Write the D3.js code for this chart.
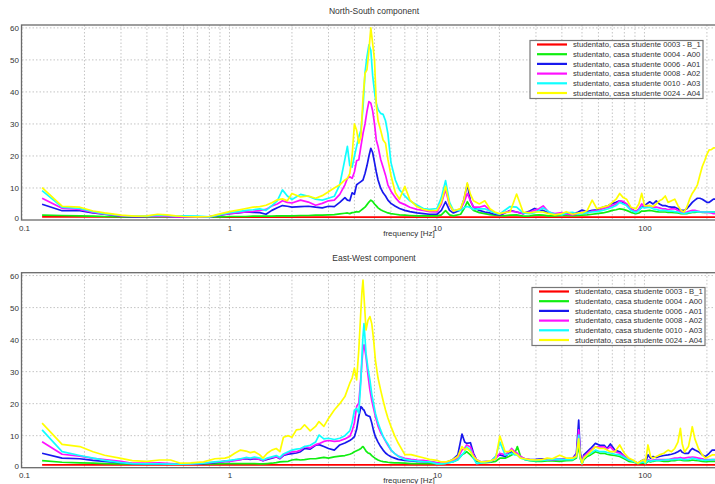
<!DOCTYPE html>
<html>
<head>
<meta charset="utf-8">
<script src="https://cdnjs.cloudflare.com/ajax/libs/d3/7.8.5/d3.min.js"></script>
<style>
body { margin: 0; background: #fff; }
text { font-family: "Liberation Sans", Arial, sans-serif; fill: #333; }
</style>
</head>
<body>
<div id="chart"></div>
<script>
// spectra of the two horizontal components

const width = 715;
const height = 484;

const seriesNames = [
  "studentato, casa studente 0003 - B_1",
  "studentato, casa studente 0004 - A00",
  "studentato, casa studente 0006 - A01",
  "studentato, casa studente 0008 - A02",
  "studentato, casa studente 0010 - A03",
  "studentato, casa studente 0024 - A04"
];
const seriesColors = ["#ff0000", "#10ee10", "#1818ee", "#ff10ff", "#10ffff", "#ffff00"];
const yTicks = [0, 10, 20, 30, 40, 50, 60];
const xTickLabels = [0.1, 1, 10, 100];

// North-South
const freqNS = [0.125,0.156,0.19,0.22,0.25,0.3,0.35,0.4,0.45,0.5,0.55,0.6,0.7,0.8,0.9,
  1.0,1.1,1.2,1.3,1.4,1.5,1.6,1.7,1.8,1.9,2.0,2.2,2.4,2.6,2.8,3.0,3.2,3.4,3.6,3.7,3.8,3.9,
  4.0,4.1,4.2,4.3,4.4,4.5,4.6,4.7,4.8,4.9,5.0,5.1,5.2,5.35,5.5,5.65,5.8,6.0,6.3,6.6,7.0,7.4,8.0,8.6,9.2,
  10,10.5,11,11.5,12,13,13.5,14,14.5,15,16,17,18,19,20,21,22.5,24.2,26,28,29.5,31,32.5,34.5,37,40,42,45,48,
  50,53,56,59,63,67,70,73,76,79,82,86,91,94,97,
  100,106,110,114,118,122,126,130,135,140,145,150,155,160,165,170,175,180,185,190,195,200,205,210,215,220];

const nsB1 = [1.0,1.0,1.0,1.0,1.0,0.9,0.9,0.9,0.9,0.9,0.9,0.9,0.9,0.9,0.9,
  0.9,0.9,0.9,0.9,0.9,0.9,0.9,0.9,0.9,0.9,0.9,0.9,0.9,0.9,0.9,0.9,0.9,0.9,0.9,0.9,0.9,0.9,
  0.9,0.9,0.9,0.9,0.9,0.9,0.9,0.9,0.9,0.9,0.9,0.9,0.9,0.9,0.9,0.9,0.9,0.9,0.9,0.9,0.9,0.9,0.9,0.9,0.9,
  0.9,0.9,0.9,0.9,0.9,0.9,0.9,0.9,0.9,0.9,0.9,0.9,0.9,0.9,0.9,0.9,0.9,0.9,0.9,0.9,0.9,0.9,0.9,0.9,0.9,0.9,0.9,0.9,0.9,
  0.9,0.9,0.9,0.9,0.9,0.9,0.9,0.9,0.9,0.9,0.9,0.9,0.9,0.9,0.9,
  0.9,0.9,0.9,0.9,0.9,0.9,0.9,0.9,0.9,0.9,0.9,0.9,0.9,0.9,0.9,0.9,0.9,0.9,0.9,0.9,0.9,0.9,0.9,0.9,0.9,0.9];
const nsA00 = [1.5,1.4,1.3,1.2,1.1,1.0,1.0,1.0,1.0,1.0,1.0,1.0,1.0,1.0,1.0,
  1.1,1.1,1.1,1.2,1.2,1.2,1.2,1.3,1.3,1.3,1.3,1.4,1.4,1.5,1.5,1.6,1.7,1.9,2.1,2.2,2.0,2.3,
  2.4,2.6,2.5,3.0,3.5,4.0,4.8,5.6,6.2,5.8,5.0,4.4,3.8,3.2,2.8,2.5,2.2,2.0,1.8,1.6,1.5,1.4,1.3,1.3,1.3,
  1.3,1.6,2.9,1.6,1.3,1.8,3.5,5.7,4.0,3.0,2.3,2.0,1.7,1.5,1.4,1.3,1.5,1.6,1.2,1.3,1.5,1.6,1.5,1.3,1.3,1.4,1.5,1.3,1.4,
  1.5,1.6,1.8,2.0,2.2,2.6,3.0,3.2,3.5,3.3,3.0,2.4,2.0,2.2,2.8,
  2.8,3.0,2.8,2.6,2.5,2.5,2.5,2.4,2.4,2.3,2.2,2.0,2.0,2.0,2.2,2.4,2.4,2.5,2.5,2.4,2.4,2.4,2.5,2.5,2.5,2.5];
const nsA01 = [4.9,2.9,2.9,2.2,1.8,1.2,1.0,1.1,1.3,1.2,1.0,1.0,1.0,1.0,1.5,
  2.0,2.2,2.5,2.4,2.3,1.8,3.0,3.8,4.5,4.3,4.0,4.2,4.3,4.0,3.8,4.3,4.2,5.5,7.0,6.2,6.0,8.5,
  8.0,11.0,11.5,12.0,12.5,14.5,17.0,20.0,22.4,21.0,18.0,15.0,12.5,10.0,8.5,7.5,6.2,5.2,4.3,3.6,3.0,2.6,2.2,2.0,1.8,
  1.8,3.0,5.7,3.0,2.2,3.1,6.5,11.2,6.0,4.0,3.0,2.5,2.2,1.8,1.6,2.0,3.0,2.5,2.0,2.8,3.6,3.0,3.0,2.2,1.8,2.0,2.0,1.8,2.5,
  3.1,2.6,3.0,3.2,4.0,4.5,5.2,5.5,6.0,5.5,5.0,3.5,2.6,3.2,4.0,
  4.5,5.7,5.0,6.0,5.0,4.5,4.5,4.2,4.0,4.0,3.5,3.0,3.0,3.5,4.5,5.5,6.2,6.8,6.8,6.5,6.0,5.5,5.5,6.0,6.5,6.5];
const nsA02 = [6.8,3.7,3.3,2.4,1.9,1.3,1.1,1.1,1.2,1.1,1.0,1.0,1.0,1.0,1.6,
  2.0,2.3,2.5,2.7,3.0,3.3,4.4,5.0,6.0,5.5,5.3,6.2,5.6,4.6,5.2,6.0,6.2,8.0,11.0,13.0,13.5,13.0,
  15.0,18.5,18.8,23.0,27.0,30.0,34.0,37.0,36.5,34.0,30.0,25.0,23.0,19.0,16.5,14.0,11.0,9.0,7.0,5.5,4.8,4.0,3.3,3.0,2.6,
  2.5,5.0,9.5,4.5,2.8,3.4,5.5,8.3,6.0,4.0,4.0,4.5,3.0,2.2,1.8,2.2,2.8,2.5,2.0,2.5,3.0,3.5,4.4,2.5,2.0,2.3,1.8,1.6,2.0,
  2.4,2.2,2.8,2.8,3.5,4.0,4.5,5.0,6.0,5.8,5.0,3.5,2.6,3.5,5.0,
  4.2,4.5,4.0,4.0,3.8,3.5,3.5,3.2,3.5,3.5,3.0,2.5,2.3,2.5,2.8,3.0,3.0,2.8,2.6,2.5,2.4,2.4,2.3,2.2,2.0,2.0];
const nsA03 = [9.2,4.0,3.6,2.6,2.0,1.4,1.2,1.2,1.5,1.4,1.2,1.3,1.2,1.0,1.7,
  2.3,2.6,3.0,3.2,3.5,3.0,4.5,6.0,9.4,7.5,6.4,8.0,7.4,6.5,6.2,6.8,7.4,11.0,19.0,23.0,17.0,16.5,
  20.0,23.0,26.0,28.0,35.0,46.0,51.0,54.7,53.0,45.0,40.0,36.5,34.5,33.3,33.0,31.0,27.0,18.0,12.5,9.4,7.5,6.0,4.7,3.6,3.3,
  3.6,7.0,12.3,5.5,3.0,3.0,3.8,4.2,3.8,3.3,3.5,3.5,2.8,2.2,1.8,2.8,4.2,4.0,2.2,2.0,2.3,3.0,3.8,2.6,1.8,1.6,2.2,2.4,1.8,
  2.0,2.3,2.5,2.6,3.0,3.5,4.0,4.5,5.5,5.0,4.5,3.0,2.3,3.0,4.0,
  3.8,4.0,3.5,3.3,3.0,3.0,3.0,2.8,2.8,2.6,2.5,2.2,2.0,2.2,2.4,2.5,2.6,2.6,2.5,2.5,2.5,2.5,2.5,2.5,2.5,2.5];
const nsA04 = [10.1,4.3,4.0,2.8,2.2,1.5,1.2,1.3,1.8,1.6,1.3,1.1,1.0,1.1,1.9,
  2.6,3.1,3.6,4.0,4.2,4.6,5.4,6.3,6.6,6.0,8.3,7.2,7.5,6.8,7.6,8.8,10.0,11.0,12.5,13.0,14.5,20.0,
  30.0,28.0,24.0,26.0,38.0,45.8,47.0,53.0,60.0,55.0,50.0,36.0,31.0,28.1,25.0,24.0,19.0,14.0,8.5,6.5,10.5,6.3,4.2,3.3,2.9,
  3.0,5.5,10.5,4.8,2.8,3.6,6.5,11.6,8.0,6.0,5.0,6.0,3.5,2.5,2.0,2.3,2.5,8.1,2.5,2.2,2.5,2.5,2.5,2.0,1.6,2.0,2.6,1.8,2.2,
  2.2,3.0,6.2,3.5,4.0,4.5,5.5,6.5,8.3,7.0,6.5,4.0,3.5,5.0,8.3,
  4.5,4.5,4.2,5.0,6.0,6.5,7.5,5.5,6.0,6.5,4.5,3.0,2.5,4.0,6.5,8.3,9.5,11.0,14.0,16.7,18.5,20.5,21.9,22.0,22.5,22.5];

// East-West
const freqEW = [0.125,0.156,0.19,0.22,0.25,0.3,0.34,0.4,0.46,0.52,0.58,0.65,0.75,0.85,0.95,
  1.0,1.06,1.13,1.2,1.26,1.32,1.4,1.45,1.52,1.6,1.68,1.75,1.82,1.92,2.0,2.1,2.2,2.3,2.45,2.6,2.7,2.85,3.0,3.2,3.4,3.6,3.8,3.9,
  4.0,4.1,4.2,4.3,4.35,4.4,4.45,4.55,4.65,4.75,4.85,4.95,5.05,5.2,5.35,5.5,5.65,5.8,6.0,6.25,6.5,7.0,7.5,8.0,8.6,9.2,10,
  10.5,11,11.9,12.6,13.2,13.6,13.9,14.5,15.0,15.5,16.3,17.2,18.2,19.2,20.1,21.3,22.2,22.9,23.7,24.4,25.3,26.5,28,30,32,34,36,39,42,45,47,48.2,49,
  50,51,53,55,58,61,64,66,68.5,72,76,80,84,88,93,96,99,101,104,107,110,114,118,124,130,135,140,145,149,152,156,163,167,170,175,182,190,197,205,212,220];

const ewB1 = [0.9,0.9,0.9,0.9,0.9,0.9,0.9,0.9,0.9,0.9,0.9,0.9,0.9,0.9,0.9,
  0.9,0.9,0.9,0.9,0.9,0.9,0.9,0.9,0.9,0.9,0.9,0.9,0.9,0.9,0.9,0.9,0.9,0.9,0.9,0.9,0.9,0.9,0.9,0.9,0.9,0.9,0.9,0.9,
  0.9,0.9,0.9,0.9,0.9,0.9,0.9,0.9,0.9,0.9,0.9,0.9,0.9,0.9,0.9,0.9,0.9,0.9,0.9,0.9,0.9,0.9,0.9,0.9,0.9,0.9,0.9,
  0.9,0.9,0.9,0.9,0.9,0.9,0.9,0.9,0.9,0.9,0.9,0.9,0.9,0.9,0.9,0.9,0.9,0.9,0.9,0.9,0.9,0.9,0.9,0.9,0.9,0.9,0.9,0.9,0.9,0.9,0.9,0.9,0.9,
  0.9,0.9,0.9,0.9,0.9,0.9,0.9,0.9,0.9,0.9,0.9,0.9,0.9,0.9,0.9,0.9,0.9,0.9,0.9,0.9,0.9,0.9,0.9,0.9,0.9,0.9,0.9,0.9,0.9,0.9,0.9,0.9,0.9,0.9,0.9,0.9,0.9,0.9,0.9,0.9,0.9];
const ewA00 = [2.2,1.7,1.5,1.4,1.3,1.2,1.2,1.1,1.1,1.1,1.1,1.1,1.2,1.2,1.3,
  1.3,1.3,1.3,1.3,1.3,1.3,1.2,1.2,1.3,1.4,1.6,1.8,1.9,2.0,2.4,2.6,2.4,2.5,2.8,2.8,3.0,3.2,3.0,3.4,3.6,3.8,4.2,4.5,
  5.0,5.3,5.6,6.0,6.4,6.6,6.2,5.2,4.6,4.4,3.8,3.3,2.9,2.4,2.1,1.9,1.8,1.7,1.6,1.5,1.5,1.4,1.3,1.3,1.3,1.3,1.3,
  1.3,1.4,1.8,2.5,4.0,4.5,5.0,4.0,3.0,2.0,1.6,1.6,1.7,2.0,3.0,3.0,3.5,4.0,4.5,6.6,3.5,2.5,2.2,2.0,2.0,2.1,2.1,2.0,2.2,2.3,3.0,7.0,3.0,
  1.2,2.5,3.5,4.0,5.0,4.5,4.5,4.2,4.0,3.8,3.5,2.8,2.0,1.8,1.3,1.4,1.5,1.3,2.0,1.8,2.0,2.2,2.2,2.0,2.0,2.2,2.2,2.4,2.4,2.3,2.2,2.2,2.3,2.4,2.3,2.2,2.0,1.9,2.0,2.0,2.0];
const ewA01 = [4.5,3.0,2.8,2.3,2.0,1.6,1.3,1.2,1.2,1.2,1.1,1.1,1.3,1.6,2.0,
  2.0,2.4,2.6,2.8,2.6,2.8,2.6,2.2,2.6,3.0,3.4,2.8,3.8,4.2,4.4,4.6,5.0,6.0,5.8,7.0,7.2,6.6,6.0,5.5,7.1,7.7,8.5,9.0,
  9.7,12.0,16.0,19.1,18.8,18.2,18.0,16.5,16.2,16.0,14.0,11.5,9.7,8.0,6.6,5.5,4.6,4.0,3.4,3.0,2.6,2.3,2.1,2.0,1.9,1.8,1.5,
  1.5,1.6,2.5,4.0,10.5,8.0,7.6,7.8,4.5,2.5,1.8,1.9,2.0,3.5,4.0,3.5,4.5,5.0,4.5,4.0,3.2,2.8,2.5,2.6,2.8,2.6,2.5,2.6,2.8,2.9,4.5,14.9,5.0,
  1.5,4.0,5.0,6.0,7.6,7.0,7.0,6.0,7.4,5.5,5.0,3.5,2.5,2.2,1.4,2.0,2.5,1.5,4.0,3.0,3.5,3.2,3.5,3.8,4.0,4.2,4.5,5.0,5.5,4.8,4.5,4.5,5.5,6.0,5.5,5.0,4.0,3.5,4.5,5.5,5.5];
const ewA02 = [8.1,4.2,3.6,2.9,2.5,2.0,1.4,1.4,1.5,1.3,1.1,1.2,1.4,1.7,2.0,
  2.0,2.2,2.5,3.0,2.8,3.0,2.6,2.2,2.8,3.2,3.4,3.0,4.0,4.6,5.0,5.0,5.5,6.6,6.2,7.2,7.5,8.2,8.5,8.2,8.4,9.0,9.8,11.5,
  14.0,19.1,20.2,28.4,33.0,37.0,38.4,34.7,29.0,24.3,21.0,18.5,16.0,13.0,11.0,9.7,8.3,7.0,5.5,4.5,3.6,2.9,2.6,2.4,2.3,2.0,1.5,
  1.5,1.6,2.0,3.0,5.5,6.0,7.1,6.5,4.0,2.5,1.8,1.9,2.0,2.8,4.5,4.0,5.0,6.0,5.0,4.5,3.5,2.8,2.5,2.4,2.5,2.6,2.5,2.7,2.8,2.8,4.0,11.8,4.0,
  1.3,3.5,4.5,5.5,6.5,6.5,6.5,5.8,6.5,5.0,4.5,3.5,2.5,2.2,1.4,1.8,2.0,1.5,2.5,2.2,2.4,2.5,2.5,2.5,2.5,2.8,3.0,3.0,3.2,3.0,3.0,3.2,3.2,3.3,3.2,3.0,2.8,2.5,2.5,2.5,2.5];
const ewA03 = [11.8,5.0,3.8,3.0,2.3,1.6,1.3,1.2,1.2,1.1,1.1,1.2,1.4,1.8,2.1,
  2.3,2.5,2.8,3.2,3.0,3.3,3.0,2.4,3.0,3.4,3.8,3.2,4.3,5.0,5.5,5.8,6.0,6.6,7.0,8.0,10.2,9.0,9.2,8.8,9.2,10.0,11.5,14.0,
  18.0,18.5,17.0,27.4,35.0,41.0,45.0,35.7,31.0,27.4,23.0,20.0,17.0,14.0,11.8,9.8,8.5,7.4,5.6,4.4,3.6,2.6,2.3,2.1,1.9,1.8,1.2,
  1.2,1.3,1.8,2.5,4.0,5.0,6.5,5.5,3.0,1.3,1.5,1.8,2.0,3.5,8.0,4.0,4.2,4.5,4.0,4.0,3.0,2.6,2.3,2.2,2.3,2.4,2.6,2.6,2.5,2.5,3.5,10.2,3.0,
  1.2,3.0,4.0,4.5,5.5,5.0,5.0,4.8,4.6,4.2,4.0,3.2,2.4,2.0,1.3,1.6,1.8,1.3,2.3,2.0,2.2,2.3,2.3,2.4,2.5,2.5,2.6,2.6,2.8,2.6,2.5,2.6,2.8,3.0,2.8,2.5,2.4,2.3,2.4,2.5,2.5];
const ewA04 = [13.9,7.3,6.6,5.0,3.9,2.9,2.2,2.0,2.4,2.4,1.4,1.5,1.8,2.8,3.0,
  3.4,4.5,5.5,5.2,4.7,5.0,4.0,3.0,4.5,5.5,6.0,5.0,9.5,10.0,9.5,11.8,12.0,13.4,11.5,12.9,14.4,12.9,15.4,18.0,20.0,22.2,26.4,28.0,
  31.1,27.4,36.8,49.3,55.0,58.6,53.4,43.0,46.0,47.2,45.0,40.0,33.6,28.0,24.3,21.0,18.0,15.5,12.9,10.0,7.7,4.1,4.1,3.6,3.1,2.6,2.3,
  1.8,1.8,2.5,3.5,6.6,5.5,6.1,5.0,3.5,2.5,1.8,1.9,2.2,2.8,9.9,5.0,5.0,5.5,4.5,4.0,3.0,2.8,2.5,2.4,2.5,3.0,2.8,3.9,3.0,3.0,3.5,9.0,3.5,
  1.4,3.0,4.0,5.0,6.5,6.0,6.0,5.5,5.0,5.0,7.1,4.5,3.0,2.4,1.4,2.0,2.5,1.6,7.1,3.5,3.0,3.5,4.0,4.5,5.5,5.0,6.0,8.0,12.3,7.5,4.9,6.6,10.0,12.8,9.0,6.0,4.0,3.0,3.5,4.0,4.0];

const svg = d3.select("#chart")
  .append("svg")
  .attr("width", width)
  .attr("height", height);

function drawPanel(p) {
  const x = d3.scaleLog().domain([0.1, 220]).range([22, 715.5]);
  const y = d3.scaleLinear().domain([0, 60.9]).range([p.bottom, p.top]);
  const g = svg.append("g");

  // dotted grid
  const gridX = x.ticks().filter(t => t <= 220);
  g.append("g").selectAll("line").data(gridX).join("line")
    .attr("x1", d => x(d)).attr("x2", d => x(d))
    .attr("y1", p.top).attr("y2", p.bottom)
    .attr("stroke", "#c4c4c4").attr("stroke-dasharray", "1.5,2");
  g.append("g").selectAll("line").data(yTicks.slice(1)).join("line")
    .attr("x1", 22).attr("x2", 716)
    .attr("y1", d => y(d)).attr("y2", d => y(d))
    .attr("stroke", "#c4c4c4").attr("stroke-dasharray", "1.5,2");

  // curves
  const clipId = "clip-" + p.id;
  svg.append("clipPath").attr("id", clipId)
    .append("rect").attr("x", 22).attr("y", p.top).attr("width", 700).attr("height", p.bottom - p.top);

  const line = d3.line().x(d => x(d[0])).y(d => y(d[1]));
  g.append("g").attr("clip-path", `url(#${clipId})`)
    .selectAll("path").data(p.series).join("path")
    .attr("d", s => line(p.freq.map((f, i) => [f, s[i]])))
    .attr("fill", "none")
    .attr("stroke", (s, i) => seriesColors[i])
    .attr("stroke-width", 1.7)
    .attr("stroke-linejoin", "round");

  // frame
  g.append("rect")
    .attr("x", 21.5).attr("y", p.top)
    .attr("width", 720).attr("height", p.bottom - p.top)
    .attr("fill", "none").attr("stroke", "#6a6a6a").attr("stroke-width", 1.3);

  // axes labels
  const yAxis = g.append("g")
    .attr("transform", "translate(22,0)")
    .call(d3.axisLeft(y).tickValues(yTicks).tickSize(0).tickPadding(3));
  yAxis.select(".domain").remove();
  yAxis.selectAll("text").attr("font-size", "8px").attr("fill", "#444")
    .style("font-family", '"Liberation Sans", Arial, sans-serif');
  yAxis.selectAll(".tick").filter(d => d === 0).select("text").attr("dy", "0.1em");

  const xAxis = g.append("g")
    .attr("transform", `translate(0,${p.bottom})`)
    .call(d3.axisBottom(x).tickValues(xTickLabels).tickFormat(d3.format("")).tickSize(0).tickPadding(5));
  xAxis.select(".domain").remove();
  xAxis.selectAll("text").attr("font-size", "8px").attr("fill", "#444")
    .style("font-family", '"Liberation Sans", Arial, sans-serif');
  xAxis.selectAll(".tick").filter(d => d === 0.1).select("text").attr("dx", "0.25em");

  g.append("text")
    .attr("x", 409).attr("y", p.bottom + 15.5)
    .attr("text-anchor", "middle")
    .attr("font-size", "8px")
    .text("frequency [Hz]");

  g.append("text")
    .attr("x", 374).attr("y", p.titleY)
    .attr("text-anchor", "middle")
    .attr("font-size", "8.5px")
    .text(p.title);

  // legend
  const leg = g.append("g").attr("transform", `translate(${p.legX},${p.legY})`);
  leg.append("rect")
    .attr("width", 173).attr("height", 58)
    .attr("fill", "#fff").attr("stroke", "#777").attr("stroke-width", 1.2);
  const rows = leg.selectAll("g.row").data(seriesNames).join("g")
    .attr("class", "row")
    .attr("transform", (d, i) => `translate(0,${4 + i * 9.7})`);
  rows.append("line")
    .attr("x1", 7).attr("x2", 37)
    .attr("stroke", (d, i) => seriesColors[i])
    .attr("stroke-width", 2.2);
  rows.append("text")
    .attr("x", 43).attr("y", 2.8)
    .attr("font-size", "7.7px")
    .text(d => d);
}

drawPanel({
  id: "ns", title: "North-South component", titleY: 14,
  top: 25, bottom: 220, legX: 530, legY: 40.5,
  freq: freqNS, series: [nsB1, nsA00, nsA01, nsA02, nsA03, nsA04]
});

drawPanel({
  id: "ew", title: "East-West component", titleY: 261,
  top: 272.7, bottom: 467.7, legX: 532, legY: 287.5,
  freq: freqEW, series: [ewB1, ewA00, ewA01, ewA02, ewA03, ewA04]
});
</script>
</body>
</html>
